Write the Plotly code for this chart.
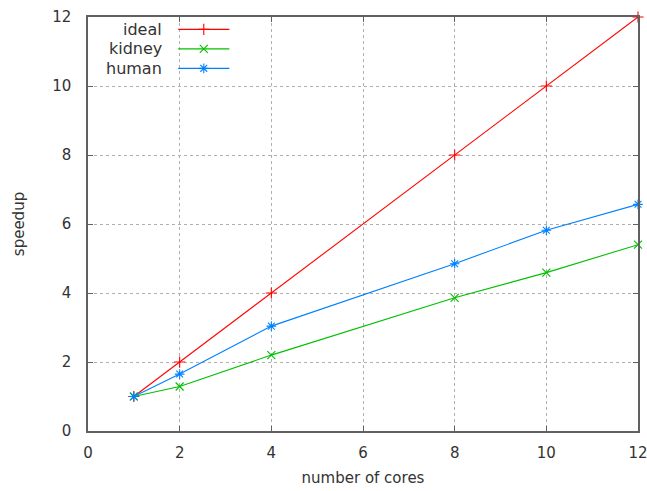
import plotly.graph_objects as go

cores = [1, 2, 4, 8, 10, 12]
ideal = [1, 2, 4, 8, 10, 12]
kidney = [1.0, 1.29, 2.2, 3.86, 4.59, 5.4]
human = [1.0, 1.65, 3.04, 4.85, 5.82, 6.57]

names = ["ideal", "kidney", "human"]
colors = ["#ff0000", "#00c000", "#0080ff"]
symbols = ["cross-thin-open", "x-thin-open", "asterisk-open"]
series = [ideal, kidney, human]

xticks = [0, 2, 4, 6, 8, 10, 12]
yticks = [0, 2, 4, 6, 8, 10, 12]

FONT = "DejaVu Sans"
TXT = "#333333"

fig = go.Figure()
for name, col, sym, ys in zip(names, colors, symbols, series):
    fig.add_trace(go.Scatter(
        x=cores, y=ys, mode="lines+markers", name=name,
        line=dict(color=col, width=1.1),
        marker=dict(symbol=sym, size=8, color=col, line=dict(color=col, width=1.1)),
        showlegend=False, cliponaxis=False,
    ))

# gnuplot-style legend (text right-aligned, sample to the right)
leg_y = [0.970, 0.923, 0.876]
for name, col, sym, ly in zip(names, colors, symbols, leg_y):
    fig.add_trace(go.Scatter(
        x=[0.164, 0.257], y=[ly, ly], xaxis="x2", yaxis="y2", mode="lines",
        line=dict(color=col, width=1.1), showlegend=False, hoverinfo="skip",
    ))
    fig.add_trace(go.Scatter(
        x=[0.2105], y=[ly], xaxis="x2", yaxis="y2", mode="markers",
        marker=dict(symbol=sym, size=8, color=col, line=dict(color=col, width=1.1)),
        showlegend=False, hoverinfo="skip",
    ))
    fig.add_annotation(x=0.1384, y=ly, xref="x2", yref="y2", text=name,
                       showarrow=False, xanchor="right", yanchor="middle",
                       font=dict(family=FONT, size=16, color=TXT))

axis_common = dict(
    showgrid=True, gridcolor="#b0b0b0", griddash="dot", gridwidth=1,
    showline=True, linecolor="#606060", linewidth=1.5, mirror="ticks",
    ticks="inside", ticklen=5, tickcolor="#606060", tickwidth=1,
    zeroline=False, automargin=False, ticklabeloverflow="allow",
    tickfont=dict(family=FONT, size=15, color=TXT),
)

fig.update_layout(
    width=647, height=491,
    margin=dict(l=88, r=9, t=17, b=60),
    paper_bgcolor="white", plot_bgcolor="white",
    xaxis=dict(range=[0, 12], tickvals=xticks, ticklabelstandoff=7,
               title=dict(text="number of cores", standoff=12,
                          font=dict(family=FONT, size=15, color=TXT)), **axis_common),
    yaxis=dict(range=[0, 12], tickvals=yticks, ticklabelstandoff=12,
               title=dict(text="speedup", standoff=24,
                          font=dict(family=FONT, size=15, color=TXT)), **axis_common),
    xaxis2=dict(range=[0, 1], overlaying="x", visible=False, fixedrange=True),
    yaxis2=dict(range=[0, 1], overlaying="y", visible=False, fixedrange=True),
)

fig.write_html(
    "out.html",
    config={"displayModeBar": False},
    post_script="document.body.style.margin='0';document.body.style.overflow='hidden';",
)
